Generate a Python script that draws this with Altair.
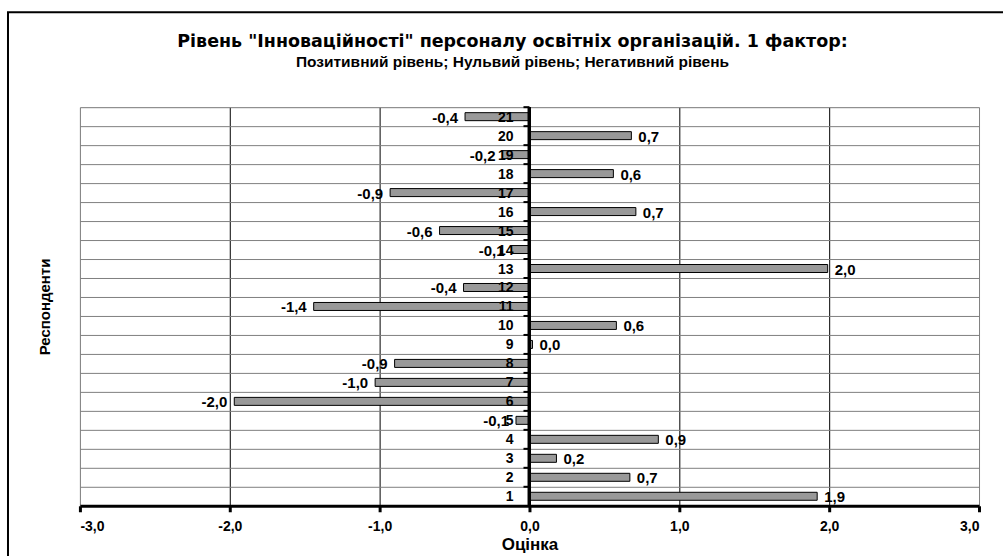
import altair as alt
import pandas as pd

respondents = [str(i) for i in range(1, 22)]
scores = [1.92, 0.67, 0.18, 0.86, -0.09, -1.97, -1.03, -0.90, 0.02, 0.58,
          -1.44, -0.44, 1.99, -0.12, -0.60, 0.71, -0.93, 0.56, -0.18, 0.68, -0.43]
x_ticks = [-3, -2, -1, 0, 1, 2, 3]

title_text = 'Рівень "Інноваційності" персоналу освітніх організацій. 1 фактор:'
subtitle_text = "Позитивний рівень; Нульвий рівень; Негативний рівень"
x_title = "Оцінка"
y_title = "Респонденти"

df = pd.DataFrame({"r": respondents, "v": scores})
order = list(reversed(respondents))

FONT = "Liberation Sans"
W, H = 900, 399

xscale = alt.Scale(domain=[-3, 3], nice=False, zero=False)
yscale = alt.Scale(domain=order, paddingInner=0, paddingOuter=0)

fmt_axis = "replace(replace(format(datum.value, '.1f'), '.', ','), '\u2212', '-')"
lab_expr = "replace(replace(format(datum.v, '.1f'), '.', ','), '\u2212', '-')"

base = alt.Chart(df)

bars = base.mark_bar(color="#999999", stroke="black", strokeWidth=1, size=8).encode(
    x=alt.X("v:Q", scale=xscale,
            axis=alt.Axis(values=x_ticks, title=x_title,
                          labelExpr=fmt_axis,
                          labelFont=FONT, labelFontSize=14, labelFontWeight="bold",
                          labelColor="black", labelPadding=8,
                          titleFont=FONT, titleFontSize=17, titleFontWeight="bold",
                          titleColor="black", titlePadding=3,
                          domainColor="black", domainWidth=3,
                          tickColor="black", tickWidth=3, tickSize=6,
                          grid=True, gridWidth=1,
                          gridColor={"condition": {"test": "abs(datum.value) == 3 || datum.value == 0",
                                                   "value": "#808080"},
                                     "value": "black"})),
    x2=alt.datum(0),
    y=alt.Y("r:N", scale=yscale, sort=order,
            axis=alt.Axis(title=y_title, labels=False, ticks=False, domain=False,
                          grid=True, gridColor="#808080", gridWidth=1, bandPosition=0,
                          titleFont=FONT, titleFontSize=15, titleFontWeight="bold",
                          titleColor="black", titlePadding=27)),
)

zero_line = base.mark_rule(color="black", strokeWidth=3).encode(
    x=alt.datum(0),
)

ticks = base.mark_rule(color="black", strokeWidth=2, xOffset=-6).encode(
    x=alt.datum(0),
    x2=alt.datum(0),
    y=alt.Y("r:N", scale=yscale, sort=order, bandPosition=0),
)

cat_labels = base.mark_text(align="right", baseline="middle", dx=-16, dy=1,
                            font=FONT, fontSize=14, fontWeight="bold", color="black").encode(
    x=alt.datum(0),
    y=alt.Y("r:N", scale=yscale, sort=order),
    text="r:N",
)

pos_labels = base.transform_filter("datum.v >= 0").transform_calculate(lab=lab_expr).mark_text(
    align="left", baseline="middle", dx=7, dy=1,
    font=FONT, fontSize=15, fontWeight="bold", color="black").encode(
    x="v:Q",
    y=alt.Y("r:N", scale=yscale, sort=order),
    text="lab:N",
)

neg_labels = base.transform_filter("datum.v < 0").transform_calculate(lab=lab_expr).mark_text(
    align="right", baseline="middle", dx=-7, dy=1,
    font=FONT, fontSize=15, fontWeight="bold", color="black").encode(
    x="v:Q",
    y=alt.Y("r:N", scale=yscale, sort=order),
    text="lab:N",
)

frame = alt.Chart(pd.DataFrame({"a": [0]})).mark_rect(
    fill=None, stroke="black", strokeWidth=2).encode(
    x=alt.value(-72), x2=alt.value(930),
    y=alt.value(-95), y2=alt.value(460),
)

chart = alt.layer(frame, bars, zero_line, ticks, cat_labels, pos_labels, neg_labels).properties(
    width=W, height=H,
    title=alt.TitleParams(text=title_text, subtitle=subtitle_text,
                          font="DejaVu Sans", fontSize=17.5, fontWeight="bold", color="black",
                          subtitleFont=FONT, subtitleFontSize=15.5, subtitleFontWeight="bold",
                          subtitleColor="black", subtitlePadding=4,
                          anchor="middle", dx=-17, offset=-59),
    padding={"left": 80, "top": 107, "right": 24, "bottom": 50},
    autosize=alt.AutoSizeParams(type="none"),
).configure_view(stroke="#808080", strokeWidth=1.5).configure(background="white")

chart.save("out.html", embed_options={"renderer": "svg", "actions": False})
